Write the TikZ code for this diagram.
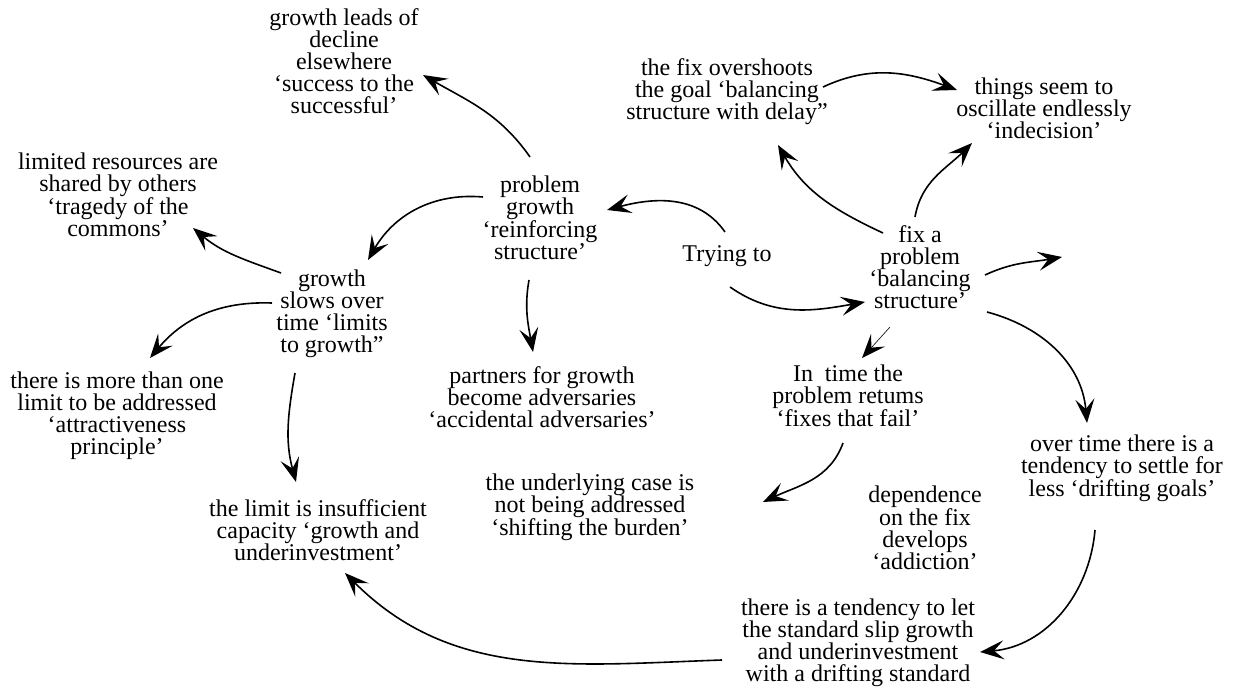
\documentclass[tikz,border=0pt]{standalone}
\usepackage{fontspec}
\setmainfont{Liberation Serif}
\usetikzlibrary{arrows.meta,calc}
\begin{document}
\begin{tikzpicture}[x=1pt,y=-1pt,
  lbl/.style={align=center, inner sep=0pt, font=\fontsize{24}{22}\selectfont},
  link/.style={line width=1.6pt, -{Stealth[length=24pt,width=19pt,inset=10pt]}},
  thinlink/.style={line width=0.6pt, -{Stealth[length=24pt,width=19pt,inset=10pt,line width=0pt]}},
]
\useasboundingbox (0,0) rectangle (1237,687);

% archetype labels
\node[lbl] (lead)   at (344,61)  {growth leads of\\decline\\elsewhere\\‘success to the\\successful’};
\node[lbl] (over)   at (727,92)  {the fix overshoots\\the goal ‘balancing\\structure with delay”};
\node[lbl] (osc)    at (1044,108){things seem to\\oscillate endlessly\\‘indecision’};
\node[lbl] (trag)   at (118,195) {limited resources are\\shared by others\\‘tragedy of the\\commons’};
\node[lbl] (pg)     at (540,218) {problem\\growth\\‘reinforcing\\structure’};
\node[lbl] (try)    at (727,256) {Trying to};
\node[lbl] (fix)    at (920,267) {fix a\\problem\\‘balancing\\structure’};
\node[lbl] (slow)   at (332,314) {growth\\slows over\\time ‘limits\\to growth”};
\node[lbl] (attr)   at (117,416) {there is more than one\\limit to be addressed\\‘attractiveness\\principle’};
\node[lbl] (adv)    at (542,397) {partners for growth\\become adversaries\\‘accidental adversaries’};
\node[lbl] (fail)   at (848,396) {In\ \ time the\\problem retums\\‘fixes that fail’};
\node[lbl] (burden) at (590,507) {the underlying case is\\not being addressed\\‘shifting the burden’};
\node[lbl] (insuff) at (318,530) {the limit is insufficient\\capacity ‘growth and\\underinvestment’};
\node[lbl] (drift)  at (1122,468){over time there is a\\tendency to settle for\\less ‘drifting goals’};
\node[lbl] (addict) at (925,528) {dependence\\on the fix\\develops\\‘addiction’};
\node[lbl] (slip)   at (858,643) {there is a tendency to let\\the standard slip growth\\and underinvestment\\with a drifting standard};

\coordinate (fixout) at (1062,257);

% links between the archetypes
\draw[link] ($(pg)+(-10,-61)$)   to[out=125,in=-30] ($(lead)+(79,14)$);
\draw[link] ($(pg)+(-57,-21)$)   to[out=175,in=60]  ($(slow)+(36,-54)$);
\draw[link] ($(try)+(-2,-24)$)   to[out=125,in=15]  ($(pg)+(67,-8)$);
\draw[link] ($(pg)+(-11,62)$)    to[out=260,in=100] ($(adv)+(-9,-45)$);
\draw[link] ($(slow)+(-51,-41)$) to[out=160,in=-40] ($(trag)+(75,33)$);
\draw[link] ($(slow)+(-60,-11)$) to[out=178,in=50]  ($(attr)+(33,-58)$);
\draw[link] ($(slow)+(-37,59)$)  to[out=260,in=105] ($(insuff)+(-22,-48)$);
\draw[link] ($(try)+(3,31)$)     to[out=-35,in=190] ($(fix)+(-55,35)$);
\draw[link] ($(fix)+(-37,-34)$)  to[out=155,in=-60] ($(over)+(51,53)$);
\draw[link] ($(fix)+(-5,-50)$)   to[out=80,in=-135] ($(osc)+(-72,35)$);
\draw[link] ($(over)+(96,-5)$)   to[out=25,in=160]  ($(osc)+(-87,-18)$);
\draw[link] ($(fix)+(65,8)$)     to[out=25,in=190]  (fixout);
\draw[thinlink] ($(fix)+(-30,60)$) -- ($(fail)+(14,-38)$);
\draw[link] ($(fix)+(67,45)$)    to[out=-15,in=95]  ($(drift)+(-35,-45)$);
\draw[link] ($(fail)+(-5,47)$)   to[out=250,in=25]  ($(burden)+(173,-5)$);
\draw[link] ($(drift)+(-27,62)$) to[out=265,in=5]   ($(slip)+(122,9)$);
\draw[link] ($(slip)+(-136,17)$) to[out=182,in=-45] ($(insuff)+(27,43)$);
\end{tikzpicture}
\end{document}
